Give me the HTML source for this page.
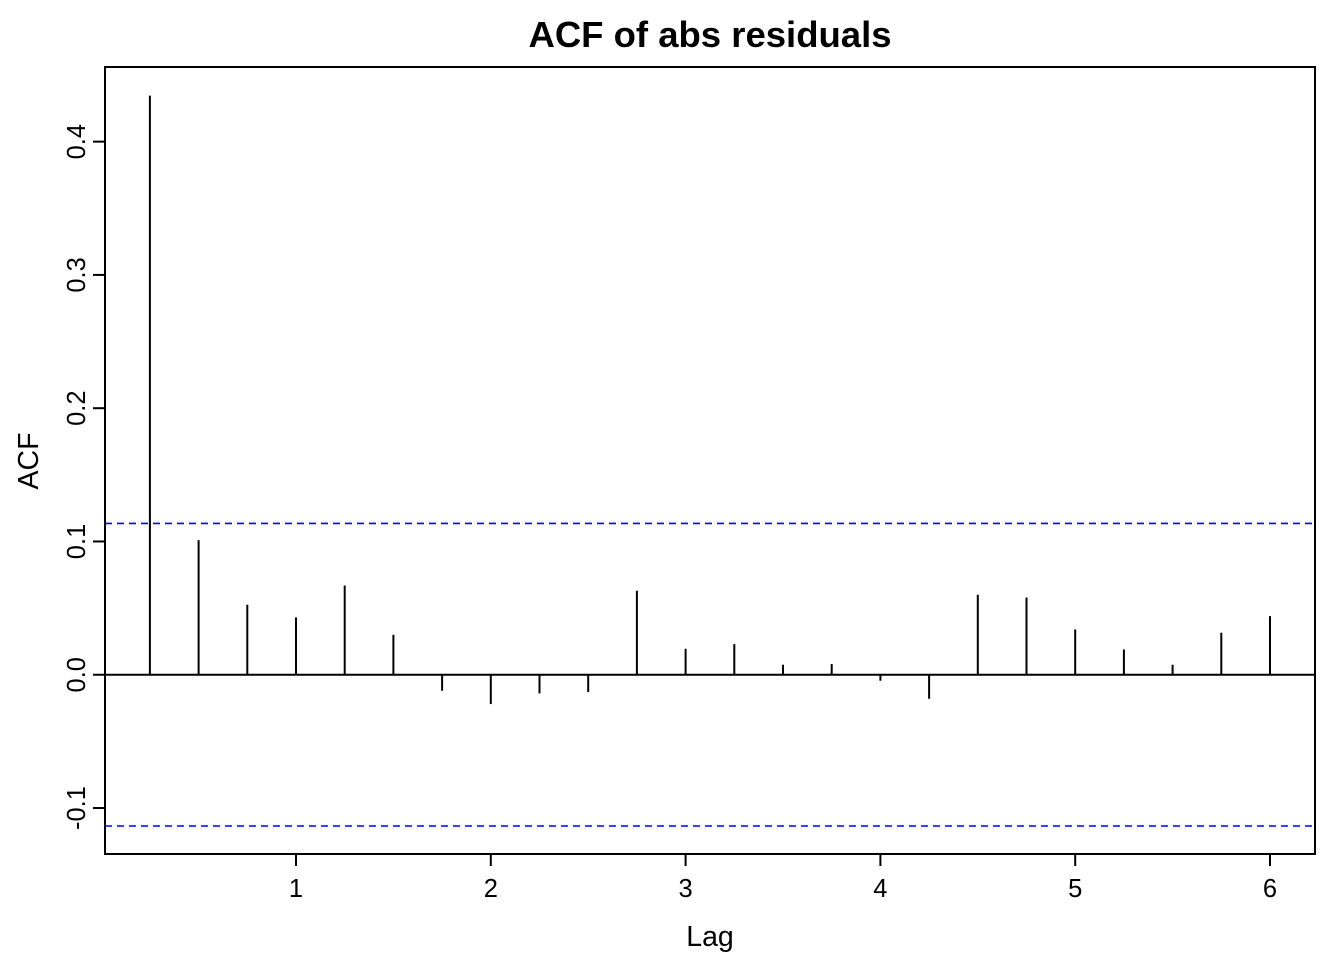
<!DOCTYPE html>
<html><head><meta charset="utf-8"><style>
html,body{margin:0;padding:0;background:#fff;}
svg{display:block;font-family:"Liberation Sans",Arial,sans-serif;}
</style></head><body>
<svg id="chart" width="1344" height="960" xmlns="http://www.w3.org/2000/svg"></svg>
<script>
const lags = [0.25,0.5,0.75,1,1.25,1.5,1.75,2,2.25,2.5,2.75,3,3.25,3.5,3.75,4,4.25,4.5,4.75,5,5.25,5.5,5.75,6];
const acfValues = [0.4345,0.101,0.0525,0.043,0.067,0.030,-0.012,-0.022,-0.014,-0.013,0.063,0.0195,0.023,0.0075,0.008,-0.0045,-0.018,0.060,0.058,0.034,0.019,0.0075,0.0315,0.044];
const ciBound = [0.1135];
const xTicks = [1,2,3,4,5,6];
const yTicks = [-0.1,0,0.1,0.2,0.3,0.4];
const yTickLabels = ["-0.1","0.0","0.1","0.2","0.3","0.4"];

const NS="http://www.w3.org/2000/svg";
const svg=document.getElementById('chart');
const L=105,R=1315,T=67,B=854;
const xMin=0.0195,xMax=6.231,yMin=-0.1345,yMax=0.456;
const X=v=>L+(v-xMin)/(xMax-xMin)*(R-L);
const Y=v=>B-(v-yMin)/(yMax-yMin)*(B-T);
function mk(tag,attrs,text){const e=document.createElementNS(NS,tag);for(const k in attrs)e.setAttribute(k,attrs[k]);if(text!=null)e.textContent=text;svg.appendChild(e);return e;}

let e=mk('text',{x:710,y:47,'text-anchor':'middle','font-size':36.5,'font-weight':'bold'},'ACF of abs residuals');



e=mk('rect',{x:L,y:T,width:R-L,height:B-T,fill:'none',stroke:'#000','stroke-width':2});



xTicks.forEach(t=>{
  const x=X(t);
  let l=mk('line',{x1:x,y1:B,x2:x,y2:B+12,stroke:'#000','stroke-width':2});
  
  
  let tx=mk('text',{x:x,y:897,'text-anchor':'middle','font-size':25.5},String(t));
  
  
});
yTicks.forEach((t,i)=>{
  const y=Y(t);
  let l=mk('line',{x1:L,y1:y,x2:L-12,y2:y,stroke:'#000','stroke-width':2});
  
  
  let tx=mk('text',{x:85,y:y,'text-anchor':'middle','font-size':25.5,transform:`rotate(-90 85 ${y})`},yTickLabels[i]);
  
  
});

e=mk('text',{x:710,y:946,'text-anchor':'middle','font-size':28.5},'Lag');


e=mk('text',{x:38,y:461,'text-anchor':'middle','font-size':28.5,transform:'rotate(-90 38 461)'},'ACF');



e=mk('line',{x1:L,y1:Y(0),x2:R,y2:Y(0),stroke:'#000','stroke-width':2});



[ciBound[0],-ciBound[0]].forEach(v=>{
  let l=mk('line',{x1:L,y1:Y(v),x2:R,y2:Y(v),stroke:'#0000ff','stroke-width':1.6,'stroke-dasharray':'7,5'});
  
  
});

lags.forEach((lag,i)=>{
  let l=mk('line',{x1:X(lag),y1:Y(0),x2:X(lag),y2:Y(acfValues[i]),stroke:'#000','stroke-width':2});
  
  
});
</script>
</body></html>
